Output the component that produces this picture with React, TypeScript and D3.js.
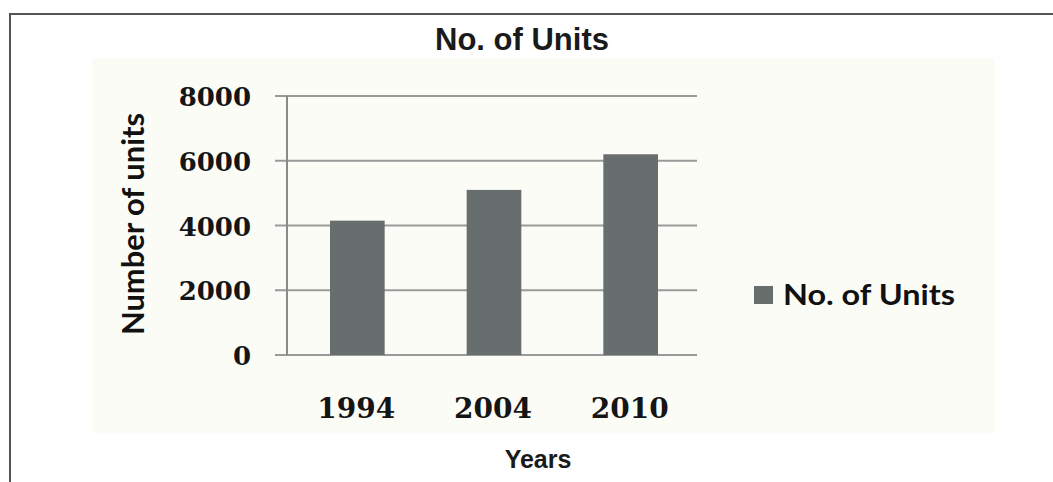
import React, { useEffect, useRef } from "react";
import * as d3 from "d3";

const categories = ["1994", "2004", "2010"];
const units = [4150, 5100, 6200];
const yTicks = [0, 2000, 4000, 6000, 8000];
const seriesName = "No. of Units";
const chartTitle = "No. of Units";
const xTitle = "Years";
const yTitle = "Number of units";

const W = 1053;
const H = 482;

export default function App() {
  const ref = useRef<SVGSVGElement>(null);

  useEffect(() => {
    const svg = d3.select(ref.current);
    svg.selectAll("*").remove();

    svg.append("rect").attr("x", 0).attr("y", 0).attr("width", W).attr("height", H).attr("fill", "#ffffff");
    svg.append("line").attr("x1", 9).attr("x2", W).attr("y1", 14).attr("y2", 14)
      .attr("stroke", "#555").attr("stroke-width", 2);
    svg.append("line").attr("x1", 10).attr("x2", 10).attr("y1", 13).attr("y2", H)
      .attr("stroke", "#555").attr("stroke-width", 2);

    svg.append("rect").attr("x", 92).attr("y", 58).attr("width", 903).attr("height", 375)
      .attr("fill", "#fcfcf7");

    const x = d3.scaleBand().domain(categories).range([287, 697]).paddingInner(0.6).paddingOuter(0.3);
    const y = d3.scaleLinear().domain([0, 8000]).range([355, 96]);

    svg.append("g").selectAll("line").data(yTicks).join("line")
      .attr("x1", 275).attr("x2", 697)
      .attr("y1", (d) => y(d)).attr("y2", (d) => y(d))
      .attr("stroke", "#9a9a9a").attr("stroke-width", 2);

    svg.append("line").attr("x1", 287).attr("x2", 287).attr("y1", y(8000)).attr("y2", y(0))
      .attr("stroke", "#8a8a8a").attr("stroke-width", 2);

    svg.append("g").selectAll("rect").data(units).join("rect")
      .attr("x", (_d, i) => (x(categories[i]) as number) + 2)
      .attr("width", x.bandwidth())
      .attr("y", (d) => y(d))
      .attr("height", (d) => y(0) - y(d))
      .attr("fill", "#686d6e");

    svg.append("g").selectAll("text").data(yTicks).join("text")
      .attr("x", 251).attr("y", (d) => y(d) + 10)
      .attr("text-anchor", "end")
      .attr("font-family", "DejaVu Serif")
      .attr("font-weight", "bold")
      .attr("font-size", 26)
      .attr("fill", "#151515")
      .text((d) => String(d));

    svg.append("g").selectAll("text").data(categories).join("text")
      .attr("x", (d) => (x(d) as number) + x.bandwidth() / 2 + 1)
      .attr("y", 418)
      .attr("text-anchor", "middle")
      .attr("font-family", "DejaVu Serif")
      .attr("font-weight", "bold")
      .attr("font-size", 28)
      .attr("fill", "#151515")
      .text((d) => d);

    svg.append("text").attr("x", 522).attr("y", 50).attr("text-anchor", "middle")
      .attr("font-family", "Liberation Sans, Arial, sans-serif").attr("font-weight", "bold")
      .attr("font-size", 31).attr("fill", "#1a1a1a").text(chartTitle);

    svg.append("text").attr("x", 538).attr("y", 468).attr("text-anchor", "middle")
      .attr("font-family", "Liberation Sans, Arial, sans-serif").attr("font-weight", "bold")
      .attr("font-size", 25).attr("fill", "#1a1a1a").text(xTitle);

    svg.append("text")
      .attr("transform", "translate(144,224) rotate(-90)")
      .attr("text-anchor", "middle")
      .attr("font-family", "Lato, sans-serif").attr("font-weight", "bold")
      .attr("font-size", 31)
      .attr("textLength", 222).attr("lengthAdjust", "spacingAndGlyphs")
      .attr("fill", "#111").text(yTitle);

    svg.append("rect").attr("x", 754).attr("y", 286).attr("width", 19).attr("height", 18).attr("fill", "#686d6e");
    svg.append("text").attr("x", 783).attr("y", 305)
      .attr("font-family", "Lato, sans-serif").attr("font-weight", "bold")
      .attr("font-size", 29)
      .attr("textLength", 172).attr("lengthAdjust", "spacingAndGlyphs")
      .attr("fill", "#111").text(seriesName);
  }, []);

  return (
    <svg ref={ref} width={W} height={H} style={{ position: "absolute", left: 0, top: 0 }} />
  );
}
